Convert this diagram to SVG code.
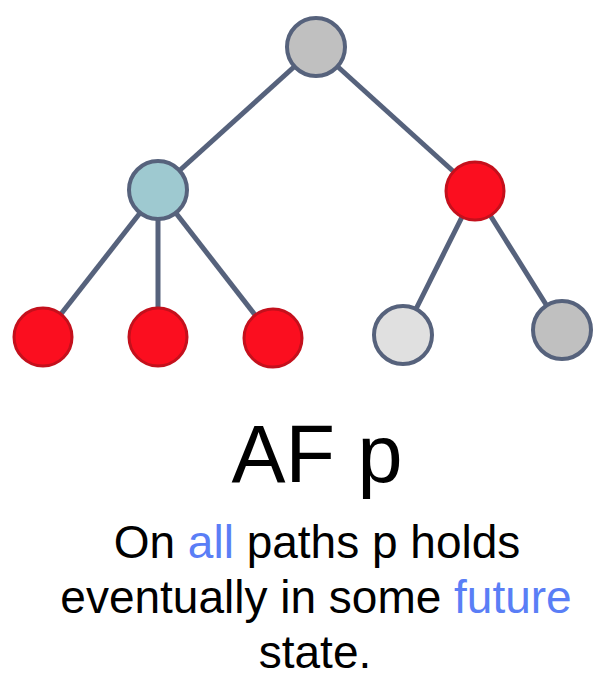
<svg xmlns="http://www.w3.org/2000/svg" width="613" height="700" viewBox="0 0 613 700">
<style>
.edge{stroke:#56627c;stroke-width:5;fill:none}
.n{stroke:#56627c;stroke-width:4}
.r{fill:#fb0e1f;stroke:#c4101c;stroke-width:3}
.t{font-family:"Liberation Sans",Arial,sans-serif;fill:#000;text-anchor:middle}
.b{fill:#5a7ef6}
</style>
<rect width="613" height="700" fill="#fff"/>
<g id="edges">
<line class="edge" x1="316" y1="47" x2="158" y2="190"/>
<line class="edge" x1="316" y1="47" x2="475" y2="191"/>
<line class="edge" x1="158" y1="190" x2="43" y2="337"/>
<line class="edge" x1="158" y1="190" x2="158" y2="337"/>
<line class="edge" x1="158" y1="190" x2="273" y2="338"/>
<line class="edge" x1="475" y1="191" x2="403" y2="335"/>
<line class="edge" x1="475" y1="191" x2="562" y2="330"/>
</g>
<g id="root"><circle class="n" cx="316" cy="47" r="29" fill="#c0c0c0"/></g>
<g id="teal"><circle class="n" cx="158" cy="190" r="29" fill="#9ec9d0"/></g>
<g id="redmid"><circle class="r" cx="475" cy="191" r="29"/></g>
<g id="leaf1"><circle class="r" cx="43" cy="337" r="29"/></g>
<g id="leaf2"><circle class="r" cx="158" cy="337" r="29"/></g>
<g id="leaf3"><circle class="r" cx="273" cy="338" r="29"/></g>
<g id="leaf4"><circle class="n" cx="403" cy="335" r="29" fill="#e0e0e0"/></g>
<g id="leaf5"><circle class="n" cx="562" cy="330" r="29" fill="#c0c0c0"/></g>
<text class="t" x="317" y="482" font-size="81">AF p</text>
<text class="t" x="317" y="558" font-size="46">On <tspan class="b">all</tspan> paths p holds</text>
<text class="t" x="316" y="613" font-size="46">eventually in some <tspan class="b">future</tspan></text>
<text class="t" x="315" y="668" font-size="46">state.</text>
</svg>
